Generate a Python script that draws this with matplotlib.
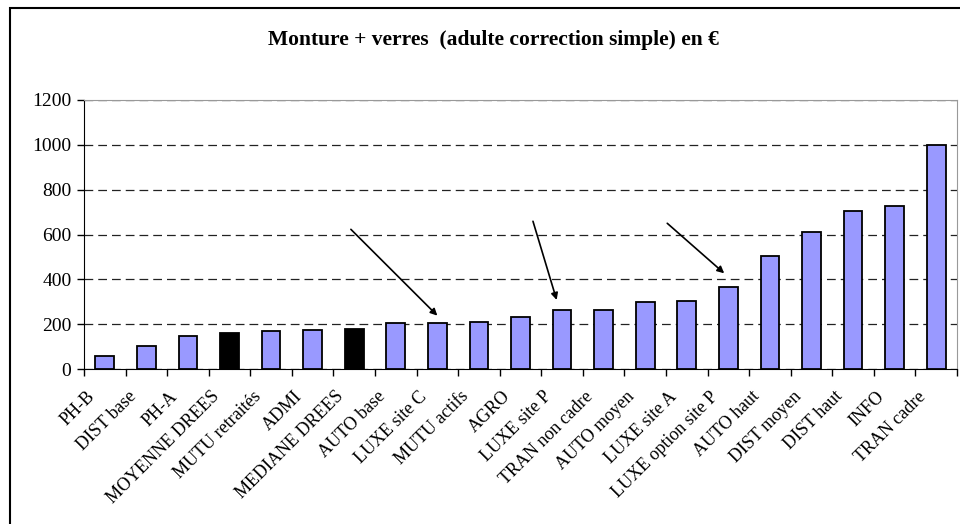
import matplotlib
matplotlib.use("Agg")
import matplotlib.pyplot as plt
import matplotlib.transforms as mtransforms
from matplotlib.patches import Rectangle
import numpy as np

categories = ["PH-B", "DIST base", "PH-A", "MOYENNE DREES", "MUTU retraités", "ADMI",
              "MEDIANE DREES", "AUTO base", "LUXE site C", "MUTU actifs", "AGRO",
              "LUXE site P", "TRAN non cadre", "AUTO moyen", "LUXE site A",
              "LUXE option site P", "AUTO haut", "DIST moyen", "DIST haut", "INFO", "TRAN cadre"]
values = [58, 103, 146, 162, 168, 175, 177, 205, 205, 211, 232,
          263, 263, 299, 305, 364, 504, 611, 705, 727, 1000]
highlight = ["MOYENNE DREES", "MEDIANE DREES"]
yticks = [0, 200, 400, 600, 800, 1000, 1200]

plt.rcParams['font.family'] = ['Liberation Serif', 'DejaVu Serif']

fig = plt.figure(figsize=(9.6, 5.24), dpi=100)
ax = fig.add_axes([84/960, 1 - 369/524, (957 - 84)/960, (369 - 100)/524])

x = np.arange(len(categories))
colors = ['black' if c in highlight else '#9999ff' for c in categories]
ax.bar(x, values, width=0.45, color=colors, edgecolor='black', linewidth=1.3, zorder=3)

ax.set_xlim(-0.5, len(categories) - 0.5)
ax.set_ylim(0, 1200)
ax.set_yticks(yticks)
ax.set_yticklabels([str(v) for v in yticks], fontsize=14)
ax.yaxis.grid(True, linestyle=(0, (7, 4)), color='#222222', linewidth=0.9, zorder=0)

# category labels drawn by hand so they can sit a bit left of the tick, like excel does
ax.set_xticks(x)
ax.set_xticklabels([])
lbl_tr = ax.get_xaxis_transform() + mtransforms.ScaledTranslation(-0.19, -0.19, fig.dpi_scale_trans)
for xi, name in zip(x, categories):
    ax.text(xi, 0, name, transform=lbl_tr, rotation=45, ha='right', va='top',
            rotation_mode='anchor', fontsize=13)
ax.set_xticks(np.arange(len(categories) + 1) - 0.5, minor=True)
ax.tick_params(axis='x', which='major', length=0)
ax.tick_params(axis='x', which='minor', length=5, direction='out', width=1)
ax.tick_params(axis='y', length=5, direction='out', width=1, pad=4)

ax.spines['left'].set_color('black')
ax.spines['bottom'].set_color('black')
ax.spines['top'].set_color('#999999')
ax.spines['right'].set_color('#999999')

arrows = [((5.92, 623), (8.0, 238)), ((10.3, 659), (10.87, 308)), ((13.53, 650), (14.9, 427))]
for start, end in arrows:
    ax.annotate("", xy=end, xytext=start,
                arrowprops=dict(arrowstyle='-|>', color='black', lw=1.2,
                                mutation_scale=10, shrinkA=0, shrinkB=0), zorder=4)

fig.text(0.514, 1 - 40/524, "Monture + verres  (adulte correction simple) en €",
         ha='center', va='center', fontsize=15.5, fontweight='bold')

fig.patches.append(Rectangle((10/960, -0.1), 1.0, 1.1 - 8/524, transform=fig.transFigure,
                             fill=False, edgecolor='black', linewidth=1.5))

fig.savefig("out.png", dpi=100)
